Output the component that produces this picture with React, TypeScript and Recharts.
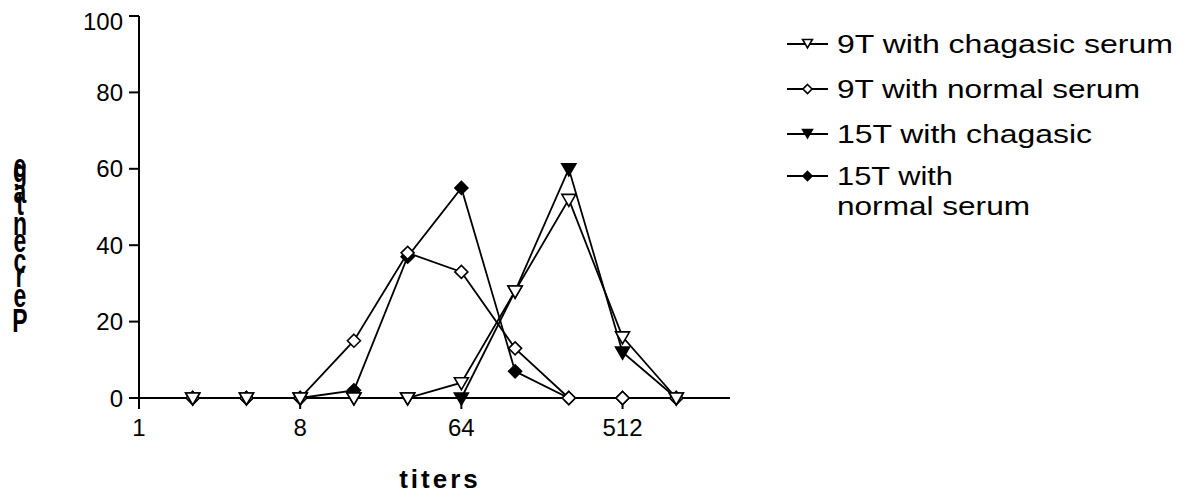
import React from 'react';
import { LineChart, Line, XAxis, YAxis, Legend } from 'recharts';

const titers = [2, 4, 8, 16, 32, 64, 128, 256, 512, 1024];
const t9Chagasic = [0, 0, 0, 0, 0, 4, 28, 52, 16, 0];
const t9Normal = [0, 0, 0, 15, 38, 33, 13, 0, 0, 0];
const t15Chagasic = [0, 0, 0, 0, 0, 0, 28, 60, 12, 0];
const t15Normal = [0, 0, 0, 2, 37, 55, 7, 0, 0, 0];
const xTicks = [1, 8, 64, 512];
const yTicks = [0, 20, 40, 60, 80, 100];
const legendLines = [
  ['9T with chagasic serum'],
  ['9T with normal serum'],
  ['15T with chagasic'],
  ['15T with', 'normal serum'],
];
const yLabel = 'Percentage';
const xLabel = 'titers';

const data = titers.map((x, i) => ({
  x,
  a: t9Chagasic[i],
  b: t9Normal[i],
  c: t15Chagasic[i],
  d: t15Normal[i],
}));

const FONT = '"Liberation Sans", Arial, Helvetica, sans-serif';

const tri = (cx: number, cy: number, filled: boolean, s = 1, key?: any) => (
  <path
    key={key}
    d={`M${cx - 7 * s},${cy - 5 * s} L${cx + 7 * s},${cy - 5 * s} L${cx},${cy + 7 * s} Z`}
    fill={filled ? '#000' : '#fff'}
    stroke="#000"
    strokeWidth={1.6}
  />
);
const dia = (cx: number, cy: number, filled: boolean, s = 1, key?: any) => (
  <path
    key={key}
    d={`M${cx},${cy - 6.5 * s} L${cx + 6.5 * s},${cy} L${cx},${cy + 6.5 * s} L${cx - 6.5 * s},${cy} Z`}
    fill={filled ? '#000' : '#fff'}
    stroke="#000"
    strokeWidth={1.6}
  />
);

const mkDot = (kind: 'tri' | 'dia', filled: boolean) => (p: any) =>
  kind === 'tri' ? tri(p.cx, p.cy, filled, 1, `d${p.index}`) : dia(p.cx, p.cy, filled, 1, `d${p.index}`);

const YLab = () => {
  const baselines = [324, 299, 279, 264, 244, 227, 207, 195, 174, 169];
  return (
    <g>
      {yLabel.split('').map((ch, i) => (
        <text
          key={i}
          transform={`translate(12,${baselines[i]}) scale(1.15,1.7)`}
          textAnchor="middle"
          fontFamily={FONT}
          fontWeight="bold"
          fontSize={20}
          fill="#000"
        >
          {ch}
        </text>
      ))}
    </g>
  );
};

const XLab = () => (
  <text x={432} y={480} textAnchor="middle" fontFamily={FONT} fontWeight="bold" fontSize={26} letterSpacing={3} fill="#000">
    {xLabel}
  </text>
);

const legendWidths = [[336], [303], [255], [116, 193]];
const markers = [
  (x: number, y: number) => tri(x, y - 1, false, 0.7),
  (x: number, y: number) => dia(x, y, false, 0.7),
  (x: number, y: number) => tri(x, y - 1, true, 0.7),
  (x: number, y: number) => dia(x, y, true, 0.7),
];
const rowBase = [45, 90, 135, 177];

const renderLegend = () => (
  <svg width={430} height={230} style={{ display: 'block' }}>
    {legendLines.map((lines, i) => (
      <g key={i}>
        <line x1={17} x2={58} y1={rowBase[i] - 9} y2={rowBase[i] - 9} stroke="#000" strokeWidth={1.8} />
        {markers[i](37.5, rowBase[i] - 9)}
        {lines.map((t, j) => (
          <text
            key={j}
            x={67}
            y={rowBase[i] + j * 30}
            fontFamily={FONT}
            fontSize={25}
            fill="#000"
            textLength={legendWidths[i][j]}
            lengthAdjust="spacingAndGlyphs"
          >
            {t}
          </text>
        ))}
      </g>
    ))}
  </svg>
);

export default function App() {
  const tickStyle = { fill: '#000', fontSize: 24, fontFamily: FONT };
  return (
    <LineChart width={1180} height={491} data={data} margin={{ top: 8, right: 458, left: 0, bottom: 41 }}>
      <XAxis
        dataKey="x"
        type="number"
        scale="log"
        domain={[1, 2048]}
        ticks={xTicks}
        allowDataOverflow
        height={60}
        tick={tickStyle}
        tickSize={11}
        tickMargin={10}
        stroke="#000"
        strokeWidth={2}
        label={<XLab />}
      />
      <YAxis
        type="number"
        domain={[0, 100]}
        ticks={yTicks}
        width={131}
        tick={tickStyle}
        tickSize={10}
        tickMargin={6}
        stroke="#000"
        strokeWidth={2}
        label={<YLab />}
      />
      <Legend
        layout="vertical"
        align="center"
        verticalAlign="middle"
        content={renderLegend}
        wrapperStyle={{ position: 'absolute', left: 762, top: 0, width: 430, height: 230 }}
      />
      <Line dataKey="d" stroke="#000" strokeWidth={1.8} dot={mkDot('dia', true)} isAnimationActive={false} />
      <Line dataKey="c" stroke="#000" strokeWidth={1.8} dot={mkDot('tri', true)} isAnimationActive={false} />
      <Line dataKey="b" stroke="#000" strokeWidth={1.8} dot={mkDot('dia', false)} isAnimationActive={false} />
      <Line dataKey="a" stroke="#000" strokeWidth={1.8} dot={mkDot('tri', false)} isAnimationActive={false} />
    </LineChart>
  );
}
